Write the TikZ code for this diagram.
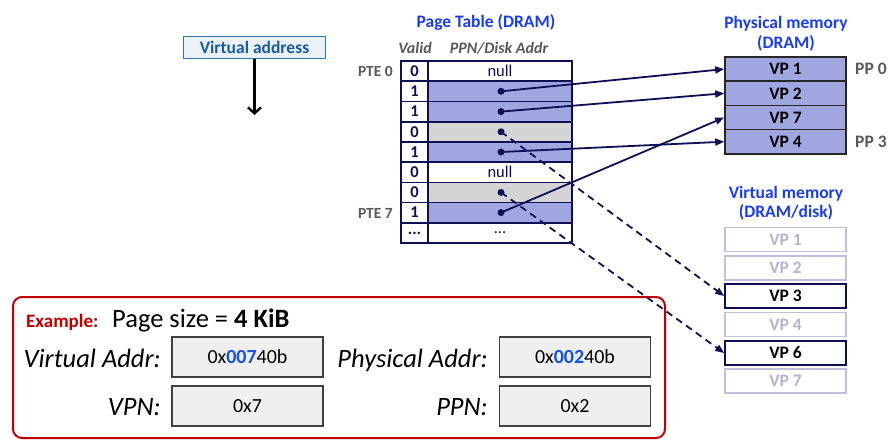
\documentclass[tikz,border=0pt]{standalone}
\usepackage{fontspec}
\setmainfont{Carlito}
\usetikzlibrary{arrows.meta}
\definecolor{ttlblue}{RGB}{25,60,245}
\definecolor{lav}{RGB}{160,166,224}
\definecolor{gry}{RGB}{212,212,212}
\definecolor{navy}{RGB}{15,15,85}
\definecolor{fade}{RGB}{192,192,220}
\definecolor{fadetxt}{RGB}{180,180,208}
\definecolor{vabd}{RGB}{46,117,182}
\definecolor{vafill}{RGB}{235,241,248}
\definecolor{vatxt}{RGB}{25,90,165}
\definecolor{exred}{RGB}{192,0,0}
\definecolor{boxfill}{RGB}{239,239,239}
\definecolor{hexblue}{RGB}{20,80,240}
\definecolor{lblgray}{RGB}{89,89,89}
\tikzset{
  ttl/.style={text=ttlblue, font=\fontsize{17.5}{20}\selectfont\bfseries, align=center, inner sep=0},
  vcell/.style={draw=navy, line width=1.6pt, fill=white, minimum width=27pt, minimum height=20.2pt, inner sep=0, text=navy, font=\fontsize{16.5}{18}\selectfont\bfseries},
  acell/.style={draw=navy, line width=1.6pt, minimum width=144pt, minimum height=20.2pt, inner sep=0, text=navy, font=\fontsize{16.5}{18}\selectfont},
  pmbox/.style={draw=black!85, line width=1.6pt, fill=lav, minimum width=121pt, minimum height=24.2pt, inner sep=0, font=\fontsize{17.5}{20}\selectfont\bfseries},
  vmbox/.style={draw=fade, line width=1.6pt, fill=white, minimum width=121pt, minimum height=24pt, inner sep=0, text=fadetxt, font=\fontsize{17.5}{20}\selectfont\bfseries},
  vmon/.style={vmbox, draw=navy, text=black},
  dotn/.style={circle, fill=navy, inner sep=0, minimum size=7pt},
  lbl/.style={text=lblgray, font=\fontsize{15.5}{18}\selectfont\bfseries, inner sep=0},
  ptr/.style={draw=navy, line width=1.8pt, -{Triangle[length=9pt,width=7pt]}},
  dptr/.style={ptr, dash pattern=on 7pt off 5pt},
  exlbl/.style={font=\fontsize{26.5}{30}\selectfont\itshape, inner sep=0},
  exbox/.style={draw=black!75, line width=1.2pt, fill=boxfill, minimum width=151pt, minimum height=40pt, inner sep=0, font=\fontsize{20}{24}\selectfont}
}
\begin{document}
\begin{tikzpicture}[x=1pt,y=-1pt]
\useasboundingbox (0,0) rectangle (895,445);
\fill[white] (0,0) rectangle (895,445);

% virtual address
\node[draw=vabd, fill=vafill, line width=1.2pt, minimum width=142pt, minimum height=22pt, inner sep=0, text=vatxt, font=\fontsize{17.5}{20}\selectfont\bfseries] (va) at (254.5,47.5) {Virtual address};
\coordinate (vaend) at (254.5,115);
\draw[line width=2.4pt, -{Straight Barb[length=6pt,width=13pt]}] (va.south) -- (vaend);

% page table titles
\node[ttl, anchor=base] (ptt) at (486,27) {Page Table (DRAM)};
\node[anchor=base, text=lblgray, font=\fontsize{16}{18}\selectfont\bfseries\itshape, inner sep=0] (hv) at (415,53) {Valid};
\node[anchor=base, text=lblgray, font=\fontsize{16}{18}\selectfont\bfseries\itshape, inner sep=0] (ha) at (499,53) {PPN/Disk Addr};

% page table rows
\node[acell, fill=white] (a0) at (500,71.1) {null};
\node[acell, fill=lav]   (a1) at (500,91.3) {};
\node[acell, fill=lav]   (a2) at (500,111.6) {};
\node[acell, fill=gry]   (a3) at (500,131.8) {};
\node[acell, fill=lav]   (a4) at (500,152.0) {};
\node[acell, fill=white] (a5) at (500,172.2) {null};
\node[acell, fill=gry]   (a6) at (500,192.4) {};
\node[acell, fill=lav]   (a7) at (500,212.6) {};
\node[acell, fill=white] (a8) at (500,232.9) {...};
\node[vcell] (v0) at (414.5,71.1) {0};
\node[vcell] (v1) at (414.5,91.3) {1};
\node[vcell] (v2) at (414.5,111.6) {1};
\node[vcell] (v3) at (414.5,131.8) {0};
\node[vcell] (v4) at (414.5,152.0) {1};
\node[vcell] (v5) at (414.5,172.2) {0};
\node[vcell] (v6) at (414.5,192.4) {0};
\node[vcell] (v7) at (414.5,212.6) {1};
\node[vcell] (v8) at (414.5,232.9) {...};
\node[lbl, anchor=base east] (pte0) at (393,76) {PTE 0};
\node[lbl, anchor=base east] (pte7) at (393,218) {PTE 7};

% physical memory
\node[ttl, anchor=base] (pmt) at (786,48) {Physical memory\\(DRAM)};
\node[pmbox] (pm1) at (785.5,69.1) {VP 1};
\node[pmbox] (pm2) at (785.5,93.3) {VP 2};
\node[pmbox] (pm3) at (785.5,117.5) {VP 7};
\node[pmbox] (pm4) at (785.5,141.7) {VP 4};
\node[lbl, anchor=base west, font=\fontsize{17.5}{20}\selectfont\bfseries] (pp0) at (855,74) {PP 0};
\node[lbl, anchor=base west, font=\fontsize{17.5}{20}\selectfont\bfseries] (pp3) at (855,147) {PP 3};

% virtual memory
\node[ttl, anchor=base, font=\fontsize{17.5}{18.5}\selectfont\bfseries] (vmt) at (786,217) {Virtual memory\\(DRAM/disk)};
\node[vmbox] (vm1) at (785.5,239.5) {VP 1};
\node[vmbox] (vm2) at (785.5,268) {VP 2};
\node[vmon]  (vm3) at (785.5,296) {VP 3};
\node[vmbox] (vm4) at (785.5,324.5) {VP 4};
\node[vmon]  (vm6) at (785.5,353) {VP 6};
\node[vmbox] (vm7) at (785.5,381) {VP 7};

% example box
\draw[exred, line width=2pt, rounded corners=9pt] (13,297) rectangle (665,438);
\node[anchor=base west, text=exred, font=\fontsize{19}{22}\selectfont\bfseries, inner sep=0] (ex) at (26,327) {Example:};
\node[anchor=base west, font=\fontsize{26.5}{30}\selectfont, inner sep=0] (ps) at (112,327) {Page size = \textbf{4 KiB}};
\node[exlbl, anchor=base east] (val) at (161,367) {Virtual Addr:};
\node[exlbl, anchor=base east] (vpnl) at (161,415) {VPN:};
\node[exlbl, anchor=base east] (pal) at (488,367) {Physical Addr:};
\node[exlbl, anchor=base east] (ppnl) at (488,415) {PPN:};
\node[exbox] (vab) at (247.5,357) {0x\textcolor{hexblue}{\textbf{007}}40b};
\node[exbox] (vpnb) at (247.5,406) {0x7};
\node[exbox] (pab) at (575,357) {0x\textcolor{hexblue}{\textbf{002}}40b};
\node[exbox] (ppnb) at (575,406) {0x2};

% dots and pointers
\node[dotn] (d1) at (501,91.3) {};
\node[dotn] (d2) at (501,111.6) {};
\node[dotn] (d3) at (501,131.8) {};
\node[dotn] (d4) at (501,152.0) {};
\node[dotn] (d6) at (501,192.4) {};
\node[dotn] (d7) at (501,212.6) {};
\draw[ptr] (d1.center) -- (pm1.west);
\draw[ptr] (d2.center) -- (pm2.west);
\draw[ptr] (d4.center) -- (pm4.west);
\draw[ptr] (d7.center) -- (pm3.west);
\draw[dptr] (d3.center) -- (vm3.west);
\draw[dptr] (d6.center) -- (vm6.west);
\end{tikzpicture}
\end{document}
